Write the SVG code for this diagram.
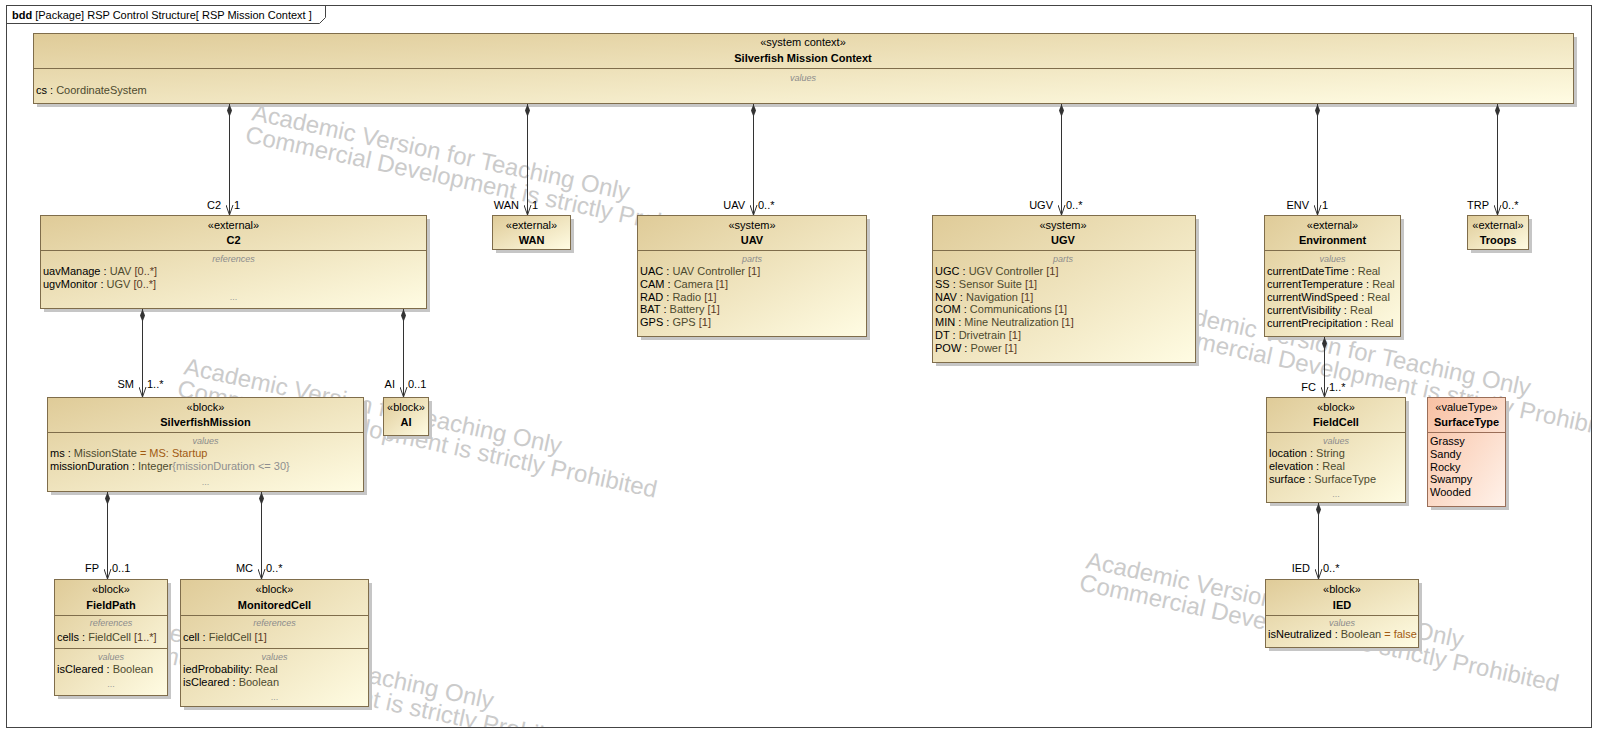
<svg xmlns="http://www.w3.org/2000/svg" width="1598" height="732" viewBox="0 0 1598 732">
<defs>
<linearGradient id="g" x1="0" y1="0" x2="1" y2="1">
<stop offset="0" stop-color="#dfcb98"/>
<stop offset="1" stop-color="#fffce3"/>
</linearGradient>
<linearGradient id="gv" x1="0" y1="0" x2="1" y2="1">
<stop offset="0" stop-color="#f8c0a2"/>
<stop offset="1" stop-color="#fff2ea"/>
</linearGradient>
<clipPath id="fc"><rect x="7" y="24" width="1584" height="703"/></clipPath>
<marker id="arr" viewBox="0 0 10 8" refX="10" refY="4" markerWidth="10" markerHeight="8" orient="auto" markerUnits="userSpaceOnUse">
<path d="M0,0.5 L10,4 L0,7.5" fill="none" stroke="#333" stroke-width="1"/>
</marker>
<marker id="dia" viewBox="0 0 13 6" refX="0" refY="3" markerWidth="13" markerHeight="6" orient="auto" markerUnits="userSpaceOnUse">
<path d="M0,3 L6.5,0.5 L13,3 L6.5,5.5 Z" fill="#333"/>
</marker>
</defs>
<style>
.t{font-family:"Liberation Sans",Arial,sans-serif;font-size:11px;fill:#000}
.b{font-weight:bold}
.c{text-anchor:middle}
.e{text-anchor:end}
.s{font-size:9px;font-style:italic;fill:#8c8c8c}
.dots{fill:#9a9a9a;font-size:9px}
.ty{fill:#4d4a2e}
.mu{fill:#5a3a26}
.dv{fill:#a05a12}
.cn{fill:#8f8f8f}
.box{fill:url(#g);stroke:#7f6d4b;stroke-width:1}
.vbox{fill:url(#gv);stroke:#9a6e58;stroke-width:1}
.sh{fill:#c6c6c6}
.dl{stroke:#7f6d4b;stroke-width:1}
.vdl{stroke:#9a6e58;stroke-width:1}
.wm{font-family:"Liberation Sans",Arial,sans-serif;font-size:24px;fill:#cbcbcb}
.cx{fill:none;stroke:#333;stroke-width:1;marker-start:url(#dia);marker-end:url(#arr)}
</style>

<g id="frame">
<rect x="6.5" y="5.5" width="1585" height="722" fill="#fff" stroke="#444" stroke-width="1"/>
<path d="M6.5,23.5 H319.5 L325.5,17.5 V5.5" fill="none" stroke="#444" stroke-width="1"/>
<text class="t" x="12" y="19"><tspan class="b">bdd</tspan> [Package] RSP Control Structure[ RSP Mission Context ]</text>
</g>

<g id="watermark" clip-path="url(#fc)">
<g transform="translate(251 120) rotate(12)">
<text class="wm" x="0" y="0">Academic Version for Teaching Only</text>
<text class="wm" x="-2" y="23">Commercial Development is strictly Prohibited</text>
</g>
<g transform="translate(183 374) rotate(12)">
<text class="wm" x="0" y="0">Academic Version for Teaching Only</text>
<text class="wm" x="-2" y="23">Commercial Development is strictly Prohibited</text>
</g>
<g transform="translate(1152 316) rotate(12)">
<text class="wm" x="0" y="0">Academic Version for Teaching Only</text>
<text class="wm" x="-2" y="23">Commercial Development is strictly Prohibited</text>
</g>
<g transform="translate(1085 568) rotate(12)">
<text class="wm" x="0" y="0">Academic Version for Teaching Only</text>
<text class="wm" x="-2" y="23">Commercial Development is strictly Prohibited</text>
</g>
<g transform="translate(115 629) rotate(12)">
<text class="wm" x="0" y="0">Academic Version for Teaching Only</text>
<text class="wm" x="-2" y="23">Commercial Development is strictly Prohibited</text>
</g>
</g>

<g id="silverfish-mission-context">
<rect class="sh" x="37" y="37" width="1540" height="70"/>
<rect class="box" x="33.5" y="33.5" width="1540" height="70"/>
<line class="dl" x1="33.5" y1="68.5" x2="1573.5" y2="68.5"/>
<text class="t c" x="803" y="46">«system context»</text>
<text class="t c b" x="803" y="62">Silverfish Mission Context</text>
<text class="t c s" x="803" y="81">values</text>
<text class="t" x="36" y="94">cs : <tspan class="ty">CoordinateSystem</tspan></text>
</g>

<g id="c2">
<rect class="sh" x="44" y="219" width="386" height="93"/>
<rect class="box" x="40.5" y="215.5" width="386" height="93"/>
<line class="dl" x1="40.5" y1="250.5" x2="426.5" y2="250.5"/>
<text class="t c" x="233.5" y="229">«external»</text>
<text class="t c b" x="233.5" y="244">C2</text>
<text class="t c s" x="233.5" y="262">references</text>
<text class="t" x="43" y="275">uavManage : <tspan class="ty">UAV</tspan> <tspan class="mu">[0..*]</tspan></text>
<text class="t" x="43" y="288">ugvMonitor : <tspan class="ty">UGV</tspan> <tspan class="mu">[0..*]</tspan></text>
<text class="t c dots" x="233.5" y="300">...</text>
</g>

<g id="wan">
<rect class="sh" x="496" y="219" width="78" height="34"/>
<rect class="box" x="492.5" y="215.5" width="78" height="34"/>
<text class="t c" x="531.5" y="229">«external»</text>
<text class="t c b" x="531.5" y="244">WAN</text>
</g>

<g id="uav">
<rect class="sh" x="641" y="219" width="229" height="121"/>
<rect class="box" x="637.5" y="215.5" width="229" height="121"/>
<line class="dl" x1="637.5" y1="250.5" x2="866.5" y2="250.5"/>
<text class="t c" x="752" y="229">«system»</text>
<text class="t c b" x="752" y="244">UAV</text>
<text class="t c s" x="752" y="262">parts</text>
<text class="t" x="640" y="275">UAC : <tspan class="ty">UAV Controller</tspan> <tspan class="mu">[1]</tspan></text>
<text class="t" x="640" y="287.8">CAM : <tspan class="ty">Camera</tspan> <tspan class="mu">[1]</tspan></text>
<text class="t" x="640" y="300.6">RAD : <tspan class="ty">Radio</tspan> <tspan class="mu">[1]</tspan></text>
<text class="t" x="640" y="313.4">BAT : <tspan class="ty">Battery</tspan> <tspan class="mu">[1]</tspan></text>
<text class="t" x="640" y="326.2">GPS : <tspan class="ty">GPS</tspan> <tspan class="mu">[1]</tspan></text>
</g>

<g id="ugv">
<rect class="sh" x="936" y="219" width="263" height="147"/>
<rect class="box" x="932.5" y="215.5" width="263" height="147"/>
<line class="dl" x1="932.5" y1="250.5" x2="1195.5" y2="250.5"/>
<text class="t c" x="1063" y="229">«system»</text>
<text class="t c b" x="1063" y="244">UGV</text>
<text class="t c s" x="1063" y="262">parts</text>
<text class="t" x="935" y="275">UGC : <tspan class="ty">UGV Controller</tspan> <tspan class="mu">[1]</tspan></text>
<text class="t" x="935" y="287.8">SS : <tspan class="ty">Sensor Suite</tspan> <tspan class="mu">[1]</tspan></text>
<text class="t" x="935" y="300.6">NAV : <tspan class="ty">Navigation</tspan> <tspan class="mu">[1]</tspan></text>
<text class="t" x="935" y="313.4">COM : <tspan class="ty">Communications</tspan> <tspan class="mu">[1]</tspan></text>
<text class="t" x="935" y="326.2">MIN : <tspan class="ty">Mine Neutralization</tspan> <tspan class="mu">[1]</tspan></text>
<text class="t" x="935" y="339">DT : <tspan class="ty">Drivetrain</tspan> <tspan class="mu">[1]</tspan></text>
<text class="t" x="935" y="351.8">POW : <tspan class="ty">Power</tspan> <tspan class="mu">[1]</tspan></text>
</g>

<g id="environment">
<rect class="sh" x="1268" y="219" width="136" height="121"/>
<rect class="box" x="1264.5" y="215.5" width="136" height="121"/>
<line class="dl" x1="1264.5" y1="250.5" x2="1400.5" y2="250.5"/>
<text class="t c" x="1332.5" y="229">«external»</text>
<text class="t c b" x="1332.5" y="244">Environment</text>
<text class="t c s" x="1332.5" y="262">values</text>
<text class="t" x="1267" y="275">currentDateTime : <tspan class="ty">Real</tspan></text>
<text class="t" x="1267" y="288">currentTemperature : <tspan class="ty">Real</tspan></text>
<text class="t" x="1267" y="301">currentWindSpeed : <tspan class="ty">Real</tspan></text>
<text class="t" x="1267" y="314">currentVisibility : <tspan class="ty">Real</tspan></text>
<text class="t" x="1267" y="327">currentPrecipitation : <tspan class="ty">Real</tspan></text>
</g>

<g id="troops">
<rect class="sh" x="1471" y="219" width="61" height="34"/>
<rect class="box" x="1467.5" y="215.5" width="61" height="34"/>
<text class="t c" x="1498" y="229">«external»</text>
<text class="t c b" x="1498" y="244">Troops</text>
</g>

<g id="silverfish-mission">
<rect class="sh" x="51" y="401" width="316" height="94"/>
<rect class="box" x="47.5" y="397.5" width="316" height="94"/>
<line class="dl" x1="47.5" y1="432.5" x2="363.5" y2="432.5"/>
<text class="t c" x="205.5" y="411">«block»</text>
<text class="t c b" x="205.5" y="426">SilverfishMission</text>
<text class="t c s" x="205.5" y="444">values</text>
<text class="t" x="50" y="457">ms : <tspan class="ty">MissionState</tspan><tspan class="dv"> = MS: Startup</tspan></text>
<text class="t" x="50" y="470">missionDuration : <tspan class="ty">Integer</tspan><tspan class="cn">{missionDuration &lt;= 30}</tspan></text>
<text class="t c dots" x="205.5" y="485">...</text>
</g>

<g id="ai">
<rect class="sh" x="387" y="401" width="45" height="38"/>
<rect class="box" x="383.5" y="397.5" width="45" height="38"/>
<text class="t c" x="406" y="411">«block»</text>
<text class="t c b" x="406" y="426">AI</text>
</g>

<g id="field-path">
<rect class="sh" x="58" y="583" width="113" height="116"/>
<rect class="box" x="54.5" y="579.5" width="113" height="116"/>
<line class="dl" x1="54.5" y1="615.5" x2="167.5" y2="615.5"/>
<line class="dl" x1="54.5" y1="648.5" x2="167.5" y2="648.5"/>
<text class="t c" x="111" y="593">«block»</text>
<text class="t c b" x="111" y="609">FieldPath</text>
<text class="t c s" x="111" y="626">references</text>
<text class="t" x="57" y="641">cells : <tspan class="ty">FieldCell</tspan> <tspan class="mu">[1..*]</tspan></text>
<text class="t c s" x="111" y="660">values</text>
<text class="t" x="57" y="673">isCleared : <tspan class="ty">Boolean</tspan></text>
<text class="t c dots" x="111" y="687">...</text>
</g>

<g id="monitored-cell">
<rect class="sh" x="184" y="583" width="188" height="127"/>
<rect class="box" x="180.5" y="579.5" width="188" height="127"/>
<line class="dl" x1="180.5" y1="615.5" x2="368.5" y2="615.5"/>
<line class="dl" x1="180.5" y1="648.5" x2="368.5" y2="648.5"/>
<text class="t c" x="274.5" y="593">«block»</text>
<text class="t c b" x="274.5" y="609">MonitoredCell</text>
<text class="t c s" x="274.5" y="626">references</text>
<text class="t" x="183" y="641">cell : <tspan class="ty">FieldCell</tspan> <tspan class="mu">[1]</tspan></text>
<text class="t c s" x="274.5" y="660">values</text>
<text class="t" x="183" y="673">iedProbability: <tspan class="ty">Real</tspan></text>
<text class="t" x="183" y="686">isCleared : <tspan class="ty">Boolean</tspan></text>
<text class="t c dots" x="274.5" y="700">...</text>
</g>

<g id="field-cell">
<rect class="sh" x="1270" y="401" width="139" height="105"/>
<rect class="box" x="1266.5" y="397.5" width="139" height="105"/>
<line class="dl" x1="1266.5" y1="432.5" x2="1405.5" y2="432.5"/>
<text class="t c" x="1336" y="411">«block»</text>
<text class="t c b" x="1336" y="426">FieldCell</text>
<text class="t c s" x="1336" y="444">values</text>
<text class="t" x="1269" y="457">location : <tspan class="ty">String</tspan></text>
<text class="t" x="1269" y="470">elevation : <tspan class="ty">Real</tspan></text>
<text class="t" x="1269" y="483">surface : <tspan class="ty">SurfaceType</tspan></text>
<text class="t c dots" x="1336" y="497">...</text>
</g>

<g id="surface-type">
<rect class="sh" x="1431" y="401" width="78" height="109"/>
<rect class="vbox" x="1427.5" y="397.5" width="78" height="109"/>
<line class="vdl" x1="1427.5" y1="432.5" x2="1505.5" y2="432.5"/>
<text class="t c" x="1466.5" y="411">«valueType»</text>
<text class="t c b" x="1466.5" y="426">SurfaceType</text>
<text class="t" x="1430" y="445">Grassy</text>
<text class="t" x="1430" y="457.8">Sandy</text>
<text class="t" x="1430" y="470.6">Rocky</text>
<text class="t" x="1430" y="483.4">Swampy</text>
<text class="t" x="1430" y="496.2">Wooded</text>
</g>

<g id="ied">
<rect class="sh" x="1269" y="583" width="153" height="68"/>
<rect class="box" x="1265.5" y="579.5" width="153" height="68"/>
<line class="dl" x1="1265.5" y1="615.5" x2="1418.5" y2="615.5"/>
<text class="t c" x="1342" y="593">«block»</text>
<text class="t c b" x="1342" y="609">IED</text>
<text class="t c s" x="1342" y="626">values</text>
<text class="t" x="1268" y="638">isNeutralized : <tspan class="ty">Boolean</tspan><tspan class="dv"> = false</tspan></text>
</g>

<g id="connectors">
<path class="cx" d="M229.5,104 V215"/>
<path class="cx" d="M527.5,104 V215"/>
<path class="cx" d="M753.5,104 V215"/>
<path class="cx" d="M1061.5,104 V215"/>
<path class="cx" d="M1317.5,104 V215"/>
<path class="cx" d="M1497.5,104 V215"/>
<path class="cx" d="M142.5,309 V397"/>
<path class="cx" d="M403.5,309 V397"/>
<path class="cx" d="M107.5,492 V579"/>
<path class="cx" d="M261.5,492 V579"/>
<path class="cx" d="M1324.5,337 V397"/>
<path class="cx" d="M1318.5,503 V579"/>
<text class="t e" x="221" y="209">C2</text><text class="t" x="234" y="209">1</text>
<text class="t e" x="519" y="209">WAN</text><text class="t" x="532" y="209">1</text>
<text class="t e" x="745" y="209">UAV</text><text class="t" x="758" y="209">0..*</text>
<text class="t e" x="1053" y="209">UGV</text><text class="t" x="1066" y="209">0..*</text>
<text class="t e" x="1309" y="209">ENV</text><text class="t" x="1322" y="209">1</text>
<text class="t e" x="1489" y="209">TRP</text><text class="t" x="1502" y="209">0..*</text>
<text class="t e" x="134" y="388">SM</text><text class="t" x="147" y="388">1..*</text>
<text class="t e" x="395" y="388">AI</text><text class="t" x="408" y="388">0..1</text>
<text class="t e" x="99" y="572">FP</text><text class="t" x="112" y="572">0..1</text>
<text class="t e" x="253" y="572">MC</text><text class="t" x="266" y="572">0..*</text>
<text class="t e" x="1316" y="391">FC</text><text class="t" x="1329" y="391">1..*</text>
<text class="t e" x="1310" y="572">IED</text><text class="t" x="1323" y="572">0..*</text>
</g>
</svg>
